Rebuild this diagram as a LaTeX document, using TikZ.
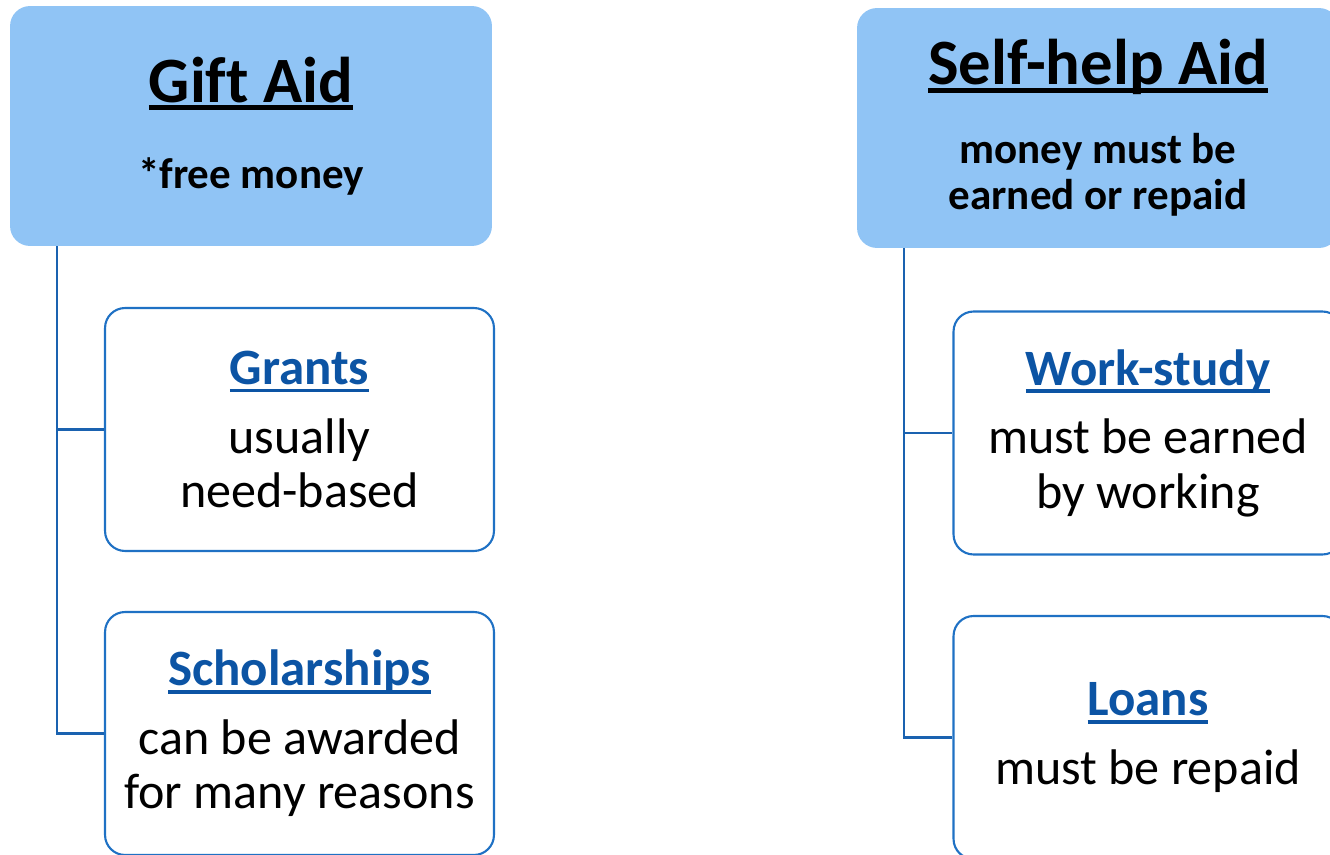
\documentclass[tikz,border=0pt]{standalone}
\usepackage{fontspec}
\setmainfont{Carlito}[Ligatures=CommonOff]
\usetikzlibrary{positioning}

\definecolor{headfill}{RGB}{144,196,245}
\definecolor{boxline}{RGB}{31,113,196}
\definecolor{linkline}{RGB}{26,98,176}
\definecolor{titleblue}{RGB}{12,84,164}

\newcommand{\headline}[3]{\setbox0\hbox{#3}\rlap{\rule[-#1]{\wd0}{#2}}\box0}
\newcommand{\bigtitle}{\fontsize{36.8}{44}\selectfont\bfseries}
\newcommand{\smalltitle}{\fontsize{29}{35}\selectfont\bfseries}

\begin{document}
\begin{tikzpicture}[x=0.02cm, y=-0.02cm,
    headbox/.style={fill=headfill, rounded corners=0.4cm, minimum width=9.64cm,
      minimum height=4.8cm, inner sep=0pt, align=center,
      font=\fontsize{24.5}{26}\selectfont\bfseries},
    itembox/.style={draw=boxline, line width=1.2pt, fill=white, rounded corners=0.4cm,
      minimum width=7.78cm, minimum height=4.86cm, inner sep=0pt, align=center,
      font=\fontsize{28.5}{31}\selectfont},
    link/.style={draw=linkline, line width=1.2pt}]
\clip (0,0) rectangle (1330,855);

% the two main kinds of aid
\node[headbox] (gift) at (251,126)
  {\headline{4.5pt}{3pt}{\bigtitle Gift Aid}\\[23pt] *free money};
\node[headbox] (selfhelp) at (1098,128)
  {\headline{4.5pt}{3pt}{\bigtitle Self-help Aid}\\[19pt] money must be\\ earned or repaid};

% what falls under each
\node[itembox] (grants) at (299.5,429.5)
  {{\color{titleblue}\headline{4.5pt}{2.2pt}{\smalltitle Grants}}\\[8pt] usually\\ need-based};
\node[itembox] (schol) at (299.5,733.5)
  {{\color{titleblue}\headline{4.5pt}{2.2pt}{\smalltitle Scholarships}}\\[8pt] can be awarded\\ for many reasons};
\node[itembox] (work) at (1148,433)
  {{\color{titleblue}\headline{4.5pt}{2.2pt}{\smalltitle Work-study}}\\[8pt] must be earned\\ by working};
\node[itembox] (loans) at (1148,737.5)
  {{\color{titleblue}\headline{4.5pt}{2.2pt}{\smalltitle Loans}}\\[8pt] must be repaid};

\draw[link] ([xshift=0.94cm]gift.south west) |- (grants.west);
\draw[link] ([xshift=0.94cm]gift.south west) |- (schol.west);
\draw[link] ([xshift=0.94cm]selfhelp.south west) |- (work.west);
\draw[link] ([xshift=0.94cm]selfhelp.south west) |- (loans.west);
\end{tikzpicture}
\end{document}
